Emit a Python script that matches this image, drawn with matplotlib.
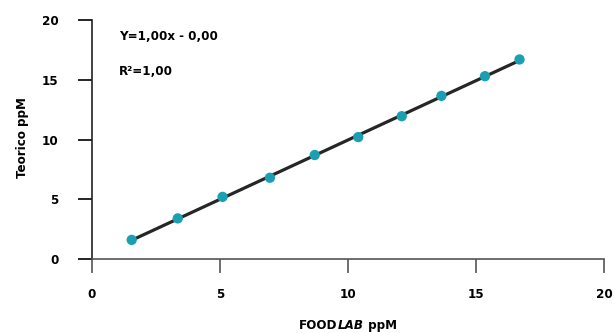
import numpy as np
import matplotlib
matplotlib.use("Agg")
import matplotlib.pyplot as plt
from matplotlib.offsetbox import TextArea, HPacker, AnchoredOffsetbox

plt.rcParams['font.family'] = ['DejaVu Sans']
plt.rcParams['font.stretch'] = 'condensed'
plt.rcParams['font.weight'] = 'bold'

# FOODLAB readings vs theoretical values (ppM)
foodlab = [1.55, 3.35, 5.1, 6.95, 8.7, 10.4, 12.1, 13.65, 15.35, 16.7]
teorico = [1.6, 3.4, 5.2, 6.8, 8.7, 10.2, 11.95, 13.65, 15.3, 16.7]
ticks = [0, 5, 10, 15, 20]

fig = plt.figure(figsize=(6.15, 3.33), dpi=100)
ax = fig.add_axes([0.1496, 0.2222, 0.8325, 0.7177])

# regression line over the data range
slope, icpt = np.polyfit(foodlab, teorico, 1)
xs = np.array([min(foodlab), max(foodlab)])
ax.plot(xs, slope*xs + icpt, color='#262626', lw=2.3, zorder=2)
ax.scatter(foodlab, teorico, s=55, color='#1aa0b0', edgecolors='none', zorder=3)

ax.set_xlim(0, 20)
ax.set_ylim(0, 20)
ax.set_xticks(ticks)
ax.set_yticks(ticks)
ax.spines['top'].set_visible(False)
ax.spines['right'].set_visible(False)
ax.spines['left'].set_color('#222222')
ax.spines['bottom'].set_color('#555555')
ax.spines['left'].set_linewidth(1.2)
ax.spines['bottom'].set_linewidth(1.2)
ax.tick_params(axis='both', length=10, width=1.2, labelsize=9.5)
ax.tick_params(axis='x', color='#555555', pad=11)
ax.tick_params(axis='y', pad=14)

fs = 9.5
ax.text(1.05, 18.6, "Y=1,00x - 0,00", fontsize=fs, fontweight='bold', va='center')
ax.text(1.05, 15.7, "R²=1,00", fontsize=fs, fontweight='bold', va='center')

fig.text(0.036, 0.588, "Teorico ppM", rotation=90, fontsize=fs, fontweight='bold',
         ha='center', va='center')

parts = [TextArea("FOOD", textprops=dict(fontsize=fs, fontweight='bold')),
         TextArea("LAB", textprops=dict(fontsize=fs, fontweight='bold', style='italic')),
         TextArea(" ppM", textprops=dict(fontsize=fs, fontweight='bold'))]
box = HPacker(children=parts, align='baseline', pad=0, sep=0)
anch = AnchoredOffsetbox(loc='center', child=box, frameon=False, pad=0, borderpad=0,
                         bbox_to_anchor=(0.566, 0.024), bbox_transform=fig.transFigure)
fig.add_artist(anch)

fig.savefig("out.png", dpi=100)
